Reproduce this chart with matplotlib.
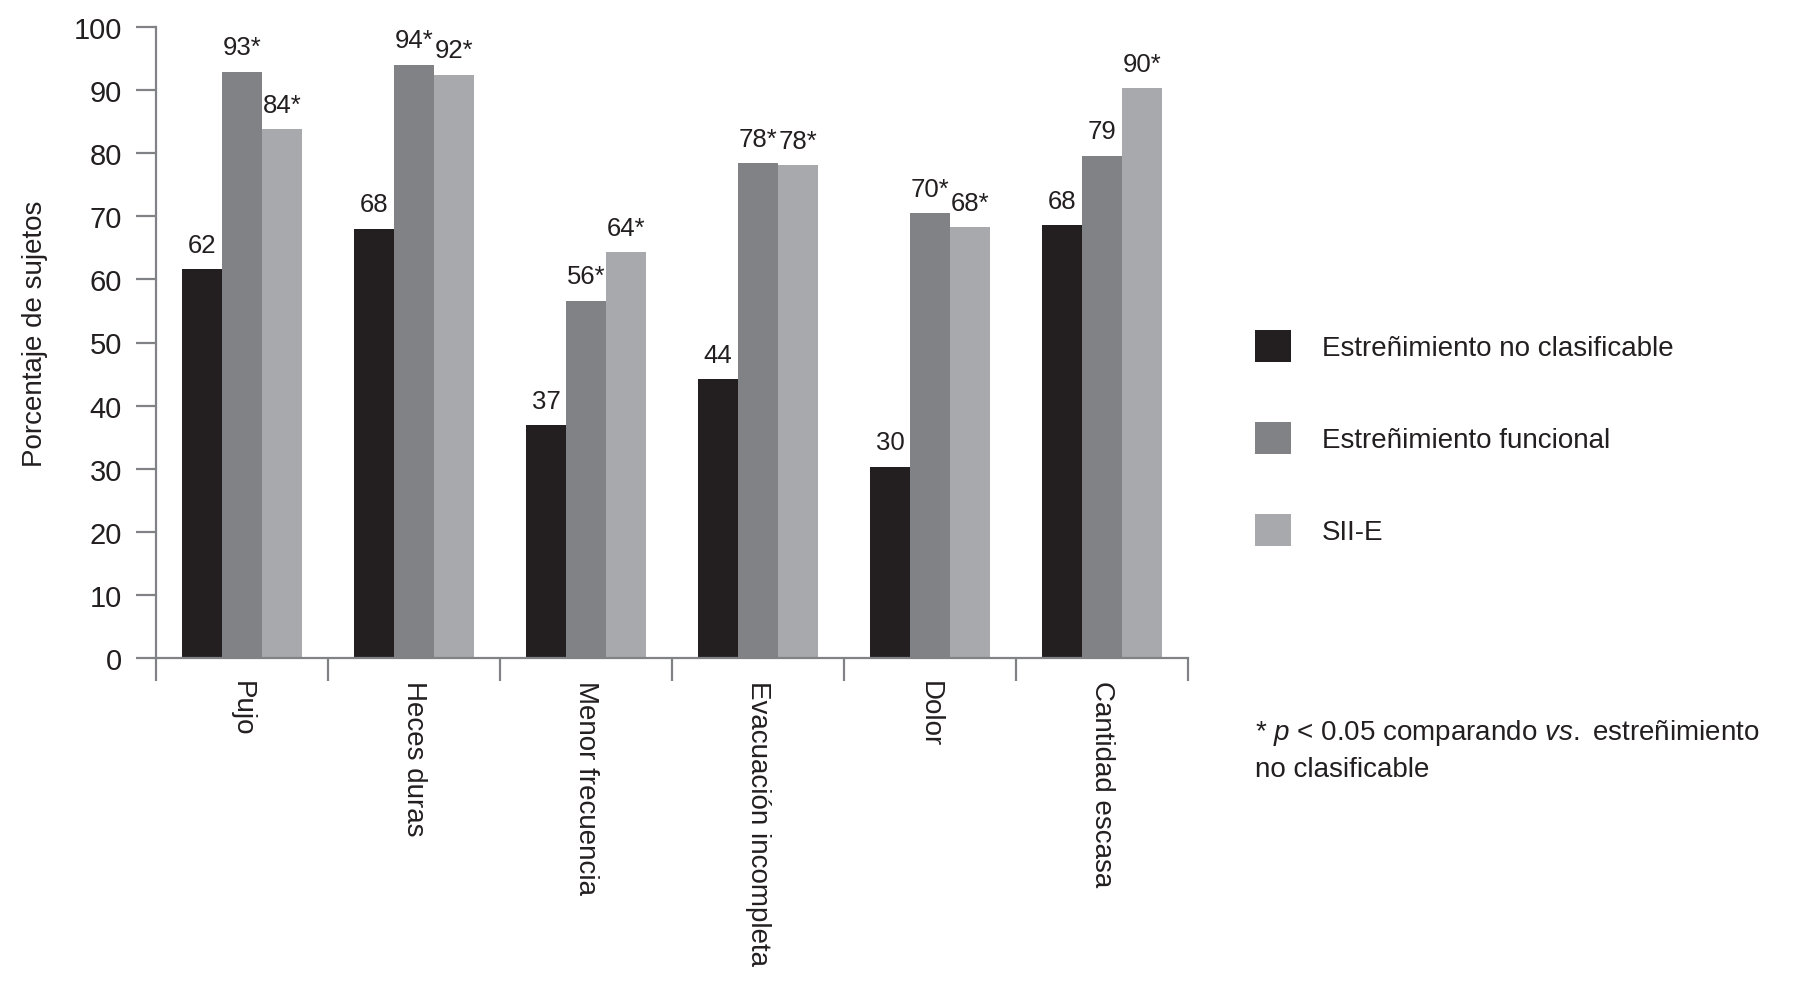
import matplotlib
matplotlib.use('Agg')
import matplotlib.pyplot as plt
import numpy as np

categorias = ['Pujo', 'Heces duras', 'Menor frecuencia',
              'Evacuación incompleta', 'Dolor', 'Cantidad escasa']
series = ['Estreñimiento no clasificable', 'Estreñimiento funcional', 'SII-E']
no_clasificable = [61.6, 68.0, 36.9, 44.2, 30.3, 68.6]
funcional = [92.9, 94.0, 56.6, 78.4, 70.5, 79.6]
sii_e = [83.8, 92.4, 64.3, 78.1, 68.3, 90.3]
etiquetas = [['62', '68', '37', '44', '30', '68'],
             ['93*', '94*', '56*', '78*', '70*', '79'],
             ['84*', '92*', '64*', '78*', '68*', '90*']]
colores = ['#231f20', '#808285', '#a7a9ac']
eje = '#808285'
texto = '#231f20'

plt.rcParams['font.family'] = ['Liberation Sans', 'DejaVu Sans']
plt.rcParams['mathtext.fontset'] = 'custom'
plt.rcParams['mathtext.rm'] = 'Liberation Sans'
plt.rcParams['mathtext.it'] = 'Liberation Sans:italic'

W, H = 1816, 995
fig = plt.figure(figsize=(W / 100, H / 100), dpi=100)
ax = fig.add_axes([156 / W, 1 - 659 / H, (1188 - 156) / W, (659 - 28) / H])

x = np.arange(len(categorias))
ancho = 0.2326
datos = [no_clasificable, funcional, sii_e]
for i, (vals, nombre) in enumerate(zip(datos, series)):
    pos = x + (i - 1) * ancho
    ax.bar(pos, vals, width=ancho, color=colores[i], label=nombre, linewidth=0)
    for px, v, t in zip(pos, vals, etiquetas[i]):
        ax.annotate(t, (px, v), xytext=(0, 9), textcoords='offset points',
                    ha='center', va='bottom', fontsize=18.5, color=texto)

ax.set_xlim(-0.5, len(categorias) - 0.5)
ax.set_ylim(0, 100)
ax.set_yticks(range(0, 101, 10))
ax.tick_params(axis='y', length=14.4, width=1.6, color=eje, pad=10,
               labelsize=21, labelcolor=texto)

ax.set_xticks(x)
ax.set_xticklabels(categorias, rotation=270, fontsize=20, color=texto)
ax.tick_params(axis='x', which='major', length=0, pad=16)
ax.set_xticks(np.arange(-0.5, len(categorias)), minor=True)
ax.tick_params(axis='x', which='minor', length=16.5, width=1.6, color=eje)

for s in ['top', 'right']:
    ax.spines[s].set_visible(False)
for s in ['left', 'bottom']:
    ax.spines[s].set_color(eje)
    ax.spines[s].set_linewidth(1.6)

ax.set_ylabel('Porcentaje de sujetos', fontsize=20, color=texto)
ax.yaxis.set_label_coords(-0.105, 0.515)

leg = fig.legend(loc='upper left', bbox_to_anchor=(1255 / W, 1 - 331 / H),
                 frameon=False, fontsize=20, handlelength=1.3,
                 handleheight=1.4, handletextpad=1.1, labelspacing=2.15,
                 borderpad=0, borderaxespad=0)
for t in leg.get_texts():
    t.set_color(texto)

fig.text(1255 / W, 1 - 740 / H,
         r'* $\it{p}$ < 0.05 comparando $\it{vs.}$ estreñimiento',
         fontsize=20, color=texto, va='baseline', ha='left')
fig.text(1255 / W, 1 - 777 / H, 'no clasificable',
         fontsize=20, color=texto, va='baseline', ha='left')

fig.savefig('out.png', dpi=100)
